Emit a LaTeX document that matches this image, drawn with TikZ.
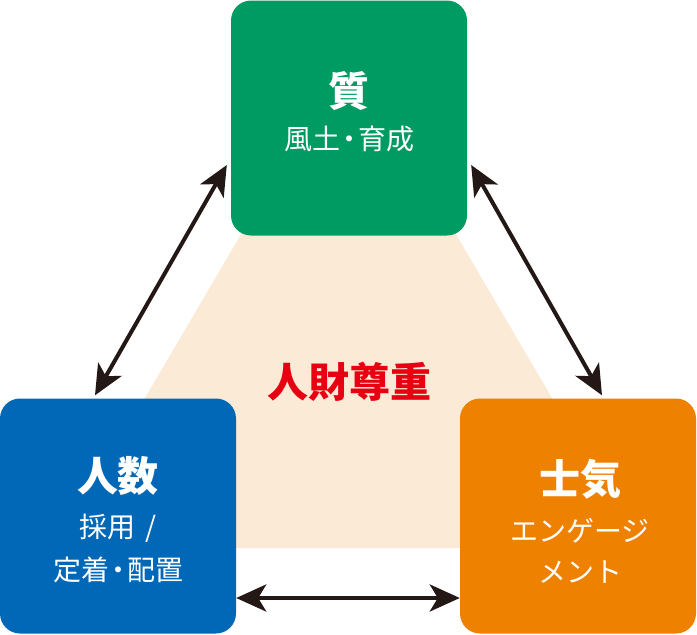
\documentclass[tikz,border=0pt]{standalone}
\usepackage{fontspec}
\newfontfamily\jpfont{Noto Sans CJK JP}
\usetikzlibrary{arrows.meta}
\definecolor{qgreen}{RGB}{0,155,99}
\definecolor{pblue}{RGB}{0,104,183}
\definecolor{morange}{RGB}{239,129,0}
\definecolor{rred}{RGB}{230,0,18}
\definecolor{beige}{RGB}{251,234,214}
\definecolor{darrow}{RGB}{35,24,21}
\newcommand{\ndot}{\kern-5pt・\kern-5pt}
\tikzset{
  card/.style={rounded corners=20pt,minimum width=236pt,minimum height=235pt,inner sep=0pt},
  head/.style={text=white,font=\jpfont\bfseries\fontsize{41}{42}\selectfont},
  sub/.style={text=white,font=\jpfont\fontsize{28}{29}\selectfont},
  link/.style={{Stealth[length=30pt,width=27pt,inset=8pt]}-{Stealth[length=30pt,width=27pt,inset=8pt]},line width=4pt,draw=darrow}
}
\begin{document}
\begin{tikzpicture}[x=1pt,y=-1pt]
                \useasboundingbox (0,0) rectangle (697,635);
                \fill[beige] (348.5,51)--(57,548)--(640,548)--cycle;
                \node[card,fill=qgreen] (quality) at (349,118) {};
                \node[card,fill=pblue] (people) at (118,516) {};
                \node[card,fill=morange] (morale) at (578,516) {};
                \draw[link] ([shift={(-4,47)}]quality.west)--([shift={(-23,-3)}]people.north);
                \draw[link] ([shift={(4,47)}]quality.east)--([shift={(24,-3)}]morale.north);
                \draw[link] ([shift={(0,82)}]people.east)--([shift={(0,82)}]morale.west);
                \node[head] at ([shift={(0,-27)}]quality.center) {質};
                \node[sub] at ([shift={(0,21)}]quality.center) {風土\ndot 育成};
                \node[head] at ([shift={(0,-40)}]people.center) {人数};
                \node[sub] at ([shift={(0,12)}]people.center) {採用 \,/};
                \node[sub] at ([shift={(0,54)}]people.center) {定着\ndot 配置};
                \node[head] at ([shift={(2,-37)}]morale.center) {士気};
                \node[sub] at ([shift={(2,15)}]morale.center) {エンゲージ};
                \node[sub] at ([shift={(2,56)}]morale.center) {メント};
                \node[text=rred,font=\jpfont\bfseries\fontsize{41}{42}\selectfont] (respect) at (349,382) {人財尊重};
\end{tikzpicture}
\end{document}
